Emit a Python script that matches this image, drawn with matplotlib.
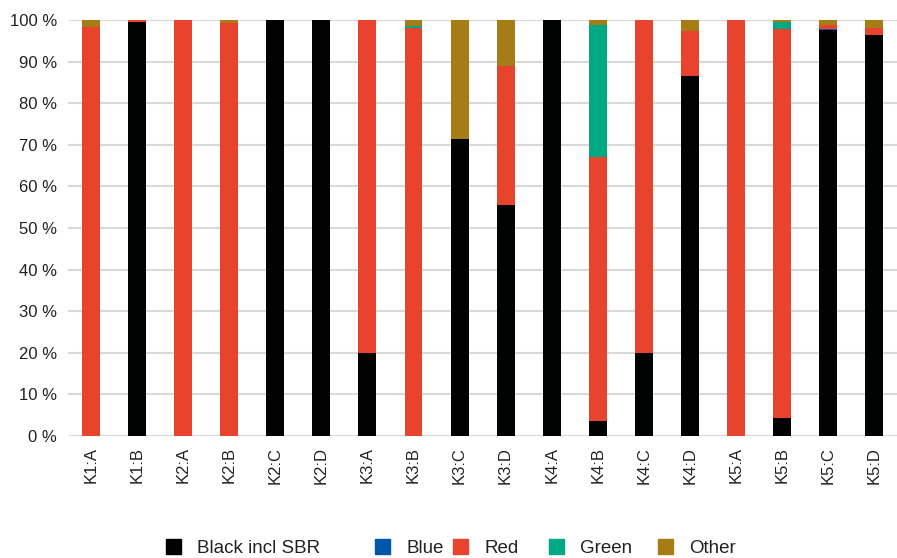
import matplotlib
matplotlib.use("Agg")
import matplotlib.pyplot as plt
from matplotlib.patches import Rectangle
import numpy as np

categories = ["K1:A", "K1:B", "K2:A", "K2:B", "K2:C", "K2:D", "K3:A", "K3:B", "K3:C",
              "K3:D", "K4:A", "K4:B", "K4:C", "K4:D", "K5:A", "K5:B", "K5:C", "K5:D"]
black = [0, 99.6, 0, 0, 100, 100, 20.0, 0, 71.4, 55.5, 100, 3.6, 20.0, 86.5, 0, 4.3, 97.5, 96.4]
blue  = [0, 0, 0, 0, 0, 0, 0, 0, 0, 0, 0, 0, 0, 0, 0, 0, 0.4, 0]
red   = [98.3, 0.4, 100, 99.4, 0, 0, 80.0, 98.0, 0, 33.4, 0, 63.5, 80.0, 10.9, 100, 93.5, 0.8, 1.7]
green = [0, 0, 0, 0, 0, 0, 0, 0.5, 0, 0, 0, 31.7, 0, 0, 0, 1.8, 0, 0]
other = [1.7, 0, 0, 0.6, 0, 0, 0, 1.5, 28.6, 11.1, 0, 1.2, 0, 2.6, 0, 0.4, 1.3, 1.9]

series = [("Black incl SBR", black, "#010302"),
          ("Blue", blue, "#0057a8"),
          ("Red", red, "#e8432d"),
          ("Green", green, "#00a884"),
          ("Other", other, "#a67c16")]

plt.rcParams['font.family'] = ['Liberation Sans', 'DejaVu Sans']
W, H = 897, 558
fig = plt.figure(figsize=(W / 100, H / 100), dpi=100)
ax = fig.add_axes([0.076, 0.219, 0.924, 0.745])

x = np.arange(len(categories))
bottom = np.zeros(len(categories))
for name, vals, col in series:
    v = np.array(vals, dtype=float)
    ax.bar(x, v, width=0.39, bottom=bottom, color=col, label=name, zorder=3, linewidth=0)
    bottom += v

ax.set_ylim(0, 100)
ax.set_xlim(-0.5, len(categories) - 0.5)
ax.set_yticks(np.arange(0, 101, 10))
ax.set_yticklabels([f"{t} %" for t in range(0, 101, 10)], fontsize=12, color="#222222")
ax.set_xticks(x)
ax.set_xticklabels(categories, rotation=90, fontsize=12, color="#222222")
ax.tick_params(axis='both', length=0, pad=8)
ax.grid(axis='y', color="#d9d9d9", linewidth=1.5, zorder=0)
ax.axhline(0, color="#d9d9d9", linewidth=2, zorder=2)
for s in ax.spines.values():
    s.set_visible(False)

# Legend laid out like the original (uneven spacing)
legend_marker_px = [166, 375, 453, 549, 658]
marker_top_px = 539
baseline_px = 553
msize = 15
for (name, vals, col), mx in zip(series, legend_marker_px):
    fig.patches.append(Rectangle((mx / W, (H - marker_top_px - msize) / H), msize / W, msize / H,
                                 transform=fig.transFigure, color=col, figure=fig))
    fig.text((mx + msize + 16) / W, (H - baseline_px) / H, name, fontsize=13.5,
             va="baseline", ha="left", color="#222222")

fig.savefig("out.png", dpi=100)
